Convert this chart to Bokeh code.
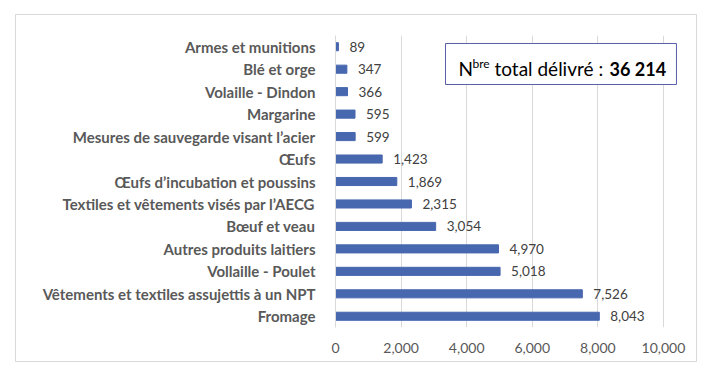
from bokeh.plotting import figure
from bokeh.models import FactorRange, Range1d, Label, BoxAnnotation, NumeralTickFormatter, ColumnDataSource, FixedTicker
from bokeh.core.properties import value
from bokeh.embed import file_html
from bokeh.resources import INLINE

categories = [
    "Armes et munitions",
    "Blé et orge",
    "Volaille - Dindon",
    "Margarine",
    "Mesures de sauvegarde visant l’acier",
    "Œufs",
    "Œufs d’incubation et poussins",
    "Textiles et vêtements visés par l’AECG",
    "Bœuf et veau",
    "Autres produits laitiers",
    "Vollaille - Poulet",
    "Vêtements et textiles assujettis à un NPT",
    "Fromage",
]
values = [89, 347, 366, 595, 599, 1423, 1869, 2315, 3054, 4970, 5018, 7526, 8043]
labels = ["89", "347", "366", "595", "599", "1,423", "1,869", "2,315", "3,054", "4,970", "5,018", "7,526", "8,043"]
x_ticks = [0, 2000, 4000, 6000, 8000, 10000]
total_label = "36 214"

FONT = "Lato"

src = ColumnDataSource(dict(cat=categories, val=values, lab=labels))

p = figure(
    width=682, height=348,
    y_range=FactorRange(factors=list(reversed(categories)), range_padding=0),
    x_range=Range1d(0, 10458),
    output_backend="svg", toolbar_location=None,
    min_border_left=319, min_border_right=20, min_border_top=20, min_border_bottom=36,
)
p.styles = {"margin-left": "15px", "margin-top": "14px", "border": "1px solid #d9d9d9"}
p.outline_line_color = None
p.background_fill_color = "white"

p.hbar(y="cat", right="val", left=0, height=0.36, source=src, color="#4767AF")
p.text(x="val", y="cat", text="lab", source=src, x_offset=11, text_align="left",
       text_baseline="middle", text_font=value(FONT), text_font_size="13.5px", text_color="#404040")

# x axis
p.xaxis.ticker = FixedTicker(ticks=x_ticks)
p.xaxis.formatter = NumeralTickFormatter(format="0,0")
p.xaxis.axis_line_color = None
p.xaxis.major_tick_line_color = None
p.xaxis.minor_tick_line_color = None
p.xaxis.major_label_text_font = FONT
p.xaxis.major_label_text_font_size = "14px"
p.xaxis.major_label_text_color = "#595959"
p.xaxis.major_label_standoff = 9
p.xgrid.grid_line_color = "#d9d9d9"
p.ygrid.grid_line_color = None

# y axis
p.yaxis.axis_line_color = "#d9d9d9"
p.yaxis.major_tick_line_color = None
p.yaxis.minor_tick_line_color = None
p.yaxis.major_label_text_font = FONT
p.yaxis.major_label_text_font_style = "bold"
p.yaxis.major_label_text_font_size = "15px"
p.yaxis.major_label_text_color = "#595959"
p.yaxis.major_label_standoff = 14

# annotation box
box = BoxAnnotation(left=3354, right=10396, top=12.644, bottom=10.818,
                    fill_color="white", fill_alpha=1.0, line_color="#5a5fa8", line_alpha=1.0,
                    line_width=1, level="overlay")
p.add_layout(box)
yb = 11.53
p.add_layout(Label(x=0, y=yb, x_offset=123, text="N", text_font=FONT, text_font_size="19px",
                   text_color="#000000", text_baseline="alphabetic", level="overlay"))
p.add_layout(Label(x=0, y=yb, x_offset=137, y_offset=5, text="bre", text_font=FONT, text_font_size="12px",
                   text_color="#000000", text_baseline="alphabetic", level="overlay"))
p.add_layout(Label(x=0, y=yb, x_offset=159, text="total délivré :", text_font=FONT, text_font_size="19px",
                   text_color="#000000", text_baseline="alphabetic", level="overlay"))
p.add_layout(Label(x=0, y=yb, x_offset=274, text=total_label, text_font=FONT, text_font_size="18px",
                   text_font_style="bold", text_color="#000000", text_baseline="alphabetic", level="overlay"))

open("out.html", "w").write(file_html(p, INLINE))
